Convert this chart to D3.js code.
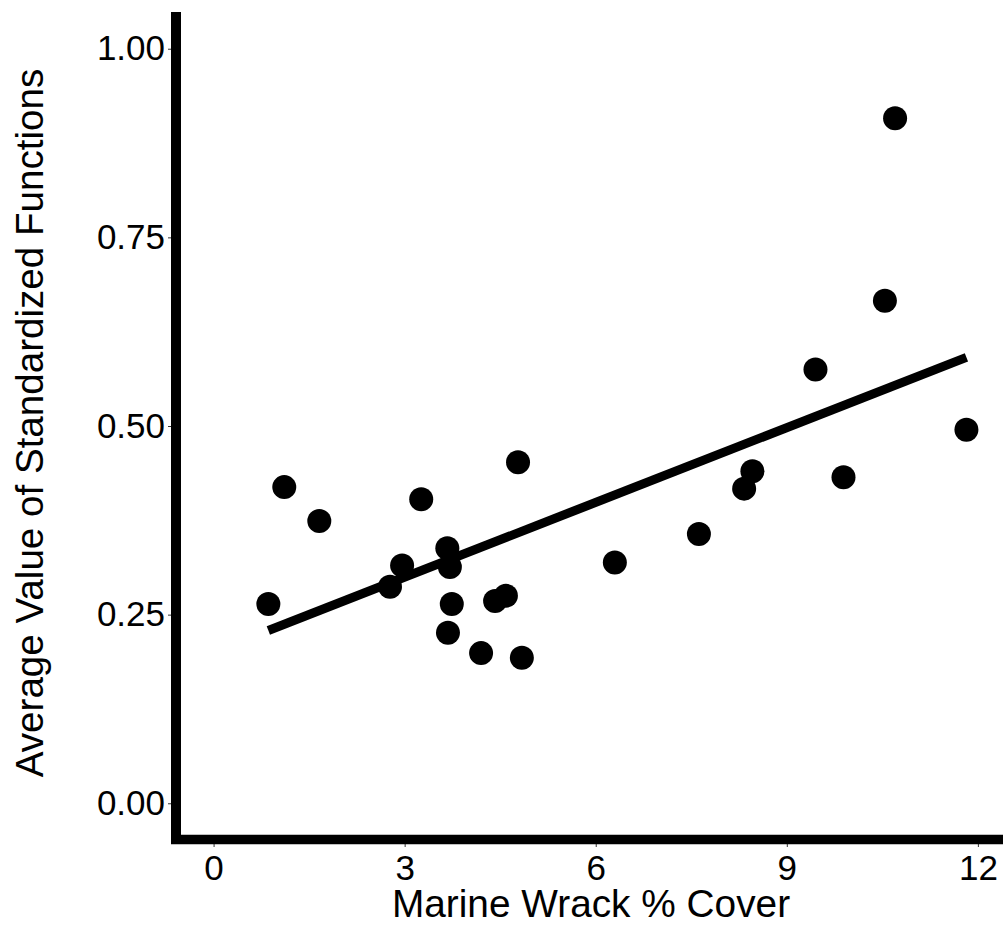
<!DOCTYPE html>
<html lang="en">

<head>
    <title>Marine Wrack</title>
    <meta charset="utf-8">
    <script src="https://d3js.org/d3.v7.min.js"></script>
    <style>
        body { margin: 0; background: #fff; }
        text { font-family: "Liberation Sans", Arial, sans-serif; }
    </style>
</head>

<body>
    <div id="chart"></div>
    <script>
        // Data
        const wrackCover = [0.86, 1.11, 1.66, 2.77, 2.96, 3.26, 3.67, 3.71, 3.74, 3.68, 4.20, 4.42, 4.59,
            4.78, 4.84, 6.30, 7.62, 8.33, 8.46, 9.45, 9.89, 10.54, 10.70, 11.82];
        const avgFunction = [0.264, 0.419, 0.374, 0.287, 0.315, 0.403, 0.338, 0.313, 0.264, 0.226, 0.199, 0.268, 0.275,
            0.452, 0.193, 0.319, 0.357, 0.417, 0.440, 0.575, 0.432, 0.666, 0.908, 0.495];
        const fitX = [0.86, 11.82];
        const fitY = [0.229, 0.591];
        const xTicks = [0, 3, 6, 9, 12];
        const yTicks = [0, 0.25, 0.5, 0.75, 1];

        const points = wrackCover.map((d, i) => ({ x: d, y: avgFunction[i] }));
        const fit = fitX.map((d, i) => ({ x: d, y: fitY[i] }));

        // Chart dimensions
        const width = 1008;
        const height = 928;

        const svg = d3.select("#chart")
            .append("svg")
            .attr("width", width)
            .attr("height", height);

        // Scales (domains include ggplot's 5% expansion)
        const x = d3.scaleLinear().domain([-0.59, 12.41]).range([176, 1004]);
        const y = d3.scaleLinear().domain([-0.05, 1.05]).range([841, 11]);

        // Axes
        svg.append("g")
            .attr("transform", "translate(171,0)")
            .call(d3.axisLeft(y).tickValues(yTicks).tickFormat(d3.format(".2f")).tickSize(3).tickPadding(3))
            .call(g => g.select(".domain").remove())
            .call(g => g.selectAll(".tick line").attr("stroke", "#333"))
            .call(g => g.selectAll(".tick text")
                .attr("fill", "#000")
                .style("font-size", "35px"));

        svg.append("g")
            .attr("transform", "translate(0,844)")
            .call(d3.axisBottom(x).tickValues(xTicks).tickFormat(d3.format("d")).tickSize(3).tickPadding(8))
            .call(g => g.select(".domain").remove())
            .call(g => g.selectAll(".tick line").attr("stroke", "#333"))
            .call(g => g.selectAll(".tick text")
                .attr("fill", "#000")
                .style("font-size", "35px"));

        // Thick axis lines
        svg.append("line")
            .attr("x1", 176).attr("x2", 176)
            .attr("y1", 12).attr("y2", 844)
            .attr("stroke", "#000")
            .attr("stroke-width", 10);

        svg.append("line")
            .attr("x1", 171).attr("x2", 1003)
            .attr("y1", 839.5).attr("y2", 839.5)
            .attr("stroke", "#000")
            .attr("stroke-width", 9.5);

        // Fit line
        svg.append("path")
            .datum(fit)
            .attr("d", d3.line().x(d => x(d.x)).y(d => y(d.y)))
            .attr("fill", "none")
            .attr("stroke", "#000")
            .attr("stroke-width", 9);

        // Points
        svg.selectAll("circle.pt")
            .data(points)
            .enter()
            .append("circle")
            .attr("class", "pt")
            .attr("cx", d => x(d.x))
            .attr("cy", d => y(d.y))
            .attr("r", 12)
            .attr("fill", "#000");

        // Axis titles
        svg.append("text")
            .attr("x", 591)
            .attr("y", 917)
            .attr("text-anchor", "middle")
            .style("font-size", "38.8px")
            .attr("fill", "#000")
            .text("Marine Wrack % Cover");

        svg.append("text")
            .attr("transform", "translate(43,423) rotate(-90)")
            .attr("text-anchor", "middle")
            .style("font-size", "38.6px")
            .attr("fill", "#000")
            .text("Average Value of Standardized Functions");
    </script>
</body>

</html>
